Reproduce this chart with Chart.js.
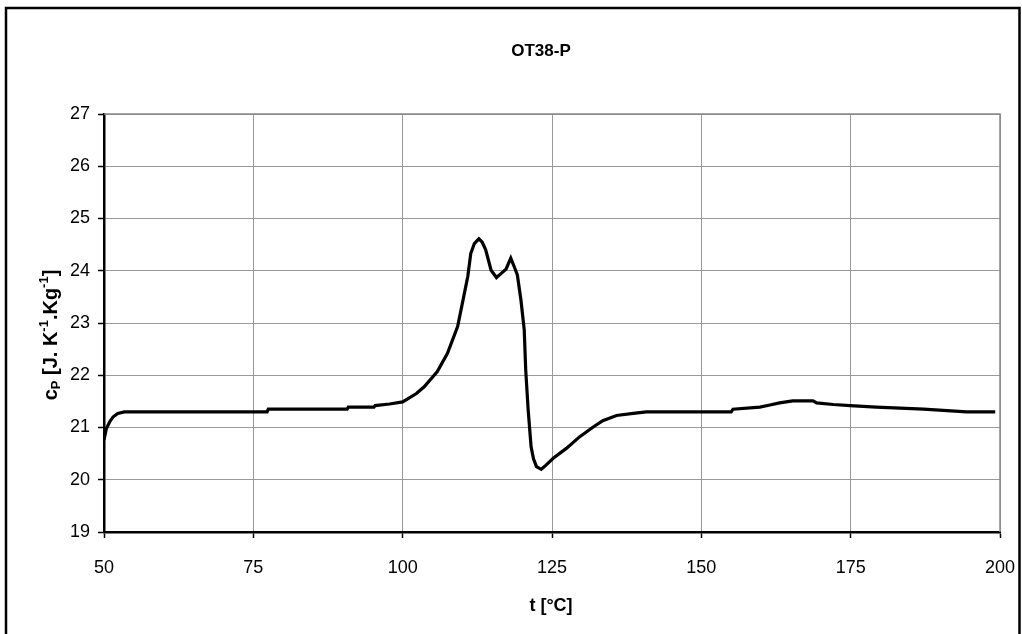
<!DOCTYPE html>
<html>
<head>
<meta charset="utf-8">
<script src="https://cdn.jsdelivr.net/npm/chart.js@4.4.1/dist/chart.umd.min.js"></script>
<style>
  html, body { margin: 0; padding: 0; background: #fff; }
  #wrap { width: 1022px; height: 634px; }
</style>
</head>
<body>
<div id="wrap"><canvas id="myChart" width="1022" height="634"></canvas></div>
<script>
// temperature (°C) and specific heat readings
const temps = [50, 50.4, 51, 51.5, 52.3, 53.4, 60, 70, 77.3, 77.5, 85, 90.7, 90.9, 95.2, 95.4,
  97.8, 100, 102.3, 103.6, 105.8, 107.5, 109.2, 110.0, 110.9, 111.4, 112.0, 112.75, 113.3,
  113.9, 114.8, 115.7, 116.5, 117.3, 118.1, 118.6, 119.2, 119.8, 120.35, 120.6, 121.0, 121.5,
  121.9, 122.4, 123.2, 124.0, 125.2, 127.4, 129.6, 131.9, 133.5, 135.8, 138.6, 140.8, 150,
  155.0, 155.3, 159.8, 161.5, 163.1, 165.3, 168.7, 169.3, 172.1, 174.9, 179.3, 187.2, 194.4, 199.2];
const cpValues = [20.76, 20.98, 21.12, 21.2, 21.27, 21.3, 21.3, 21.3, 21.3, 21.35, 21.35, 21.35, 21.39, 21.39, 21.42,
  21.45, 21.49, 21.65, 21.78, 22.07, 22.42, 22.93, 23.38, 23.89, 24.33, 24.52, 24.61, 24.55,
  24.4, 24.01, 23.87, 23.95, 24.03, 24.24, 24.1, 23.92, 23.44, 22.87, 22.1, 21.35, 20.63,
  20.4, 20.25, 20.2, 20.28, 20.41, 20.6, 20.82, 21.01, 21.13, 21.23, 21.27, 21.3, 21.3,
  21.3, 21.35, 21.39, 21.43, 21.47, 21.51, 21.51, 21.47, 21.44, 21.42, 21.39, 21.35, 21.3, 21.3];
const xTicks = [50, 75, 100, 125, 150, 175, 200];
const yTicks = [19, 20, 21, 22, 23, 24, 25, 26, 27];
const chartTitle = "OT38-P";
const xTitle = "t [°C]";

let points = [];
for (let i = 0; i < temps.length; i++) {
  points.push({ x: temps[i], y: cpValues[i] });
}

const FONT = "'Liberation Sans', Arial, sans-serif";

// frame, plot border and text labels
const decor = {
  id: "decor",
  beforeDatasetsDraw(chart) {
    const ctx = chart.ctx;
    const a = chart.chartArea;
    ctx.save();
    ctx.strokeStyle = "#888";
    ctx.lineWidth = 1.5;
    ctx.beginPath();
    ctx.moveTo(a.left, a.top);
    ctx.lineTo(a.right, a.top);
    ctx.lineTo(a.right, a.bottom);
    ctx.stroke();
    ctx.restore();
  },
  afterDraw(chart) {
    const ctx = chart.ctx;
    ctx.save();
    // outer frame
    ctx.strokeStyle = "#000";
    ctx.lineWidth = 2.5;
    ctx.beginPath();
    ctx.moveTo(6, 640);
    ctx.lineTo(6, 8);
    ctx.lineTo(1019.5, 8);
    ctx.lineTo(1019.5, 640);
    ctx.stroke();

    ctx.fillStyle = "#000";
    ctx.textAlign = "center";
    ctx.textBaseline = "middle";
    ctx.font = "bold 17px " + FONT;
    ctx.fillText(chartTitle, 541, 51);
    ctx.font = "bold 18px " + FONT;
    ctx.fillText(xTitle, 551, 606);

    // y title with sub/superscripts
    const parts = [
      ["c", "n"], ["P", "sub"], [" [J. K", "n"], ["-1", "sup"], [".Kg", "n"], ["-1", "sup"], ["]", "n"]
    ];
    const big = "bold 20px " + FONT;
    const small = "bold 13px " + FONT;
    let total = 0;
    parts.forEach(p => {
      ctx.font = p[1] === "n" ? big : small;
      total += ctx.measureText(p[0]).width;
    });
    ctx.translate(50, 335);
    ctx.rotate(-Math.PI / 2);
    ctx.textAlign = "left";
    ctx.textBaseline = "alphabetic";
    let x = -total / 2;
    parts.forEach(p => {
      ctx.font = p[1] === "n" ? big : small;
      let dy = 7;
      if (p[1] === "sub") dy = 10;
      if (p[1] === "sup") dy = -2;
      ctx.fillText(p[0], x, dy);
      x += ctx.measureText(p[0]).width;
    });
    ctx.restore();
  }
};

const canvas = document.getElementById("myChart");
const chart = new Chart(canvas, {
  type: "scatter",
  data: {
    datasets: [{
      data: points,
      showLine: true,
      borderColor: "#000",
      borderWidth: 3.2,
      pointRadius: 0,
      tension: 0
    }]
  },
  plugins: [decor],
  options: {
    responsive: false,
    animation: false,
    layout: { padding: { left: 0, right: 22, top: 114, bottom: 0 } },
    plugins: {
      legend: { display: false },
      title: { display: false },
      tooltip: { enabled: false }
    },
    scales: {
      x: {
        type: "linear",
        min: 50,
        max: 200,
        afterFit: (s) => { s.height = 102; s.paddingLeft = 0; s.paddingRight = 0; },
        afterBuildTicks: (s) => { s.ticks = xTicks.map(v => ({ value: v })); },
        ticks: {
          color: "#000",
          font: { family: FONT, size: 18 },
          padding: 19,
          maxRotation: 0
        },
        grid: {
          color: "#999",
          borderDash: [2, 1],
          lineWidth: 1,
          tickLength: 6,
          tickColor: "#000",
          tickWidth: 1.5,
          tickBorderDash: []
        },
        border: { color: "#000", width: 2.5 }
      },
      y: {
        min: 19,
        max: 27,
        afterFit: (s) => { s.width = 104; s.paddingTop = 0; s.paddingBottom = 0; },
        afterBuildTicks: (s) => { s.ticks = yTicks.map(v => ({ value: v })); },
        ticks: {
          color: "#000",
          font: { family: FONT, size: 18 },
          padding: 8
        },
        grid: {
          color: "#999",
          borderDash: [2, 1],
          lineWidth: 1,
          tickLength: 6,
          tickColor: "#000",
          tickWidth: 1.5,
          tickBorderDash: []
        },
        border: { color: "#000", width: 2.5 }
      }
    }
  }
});
</script>
</body>
</html>
